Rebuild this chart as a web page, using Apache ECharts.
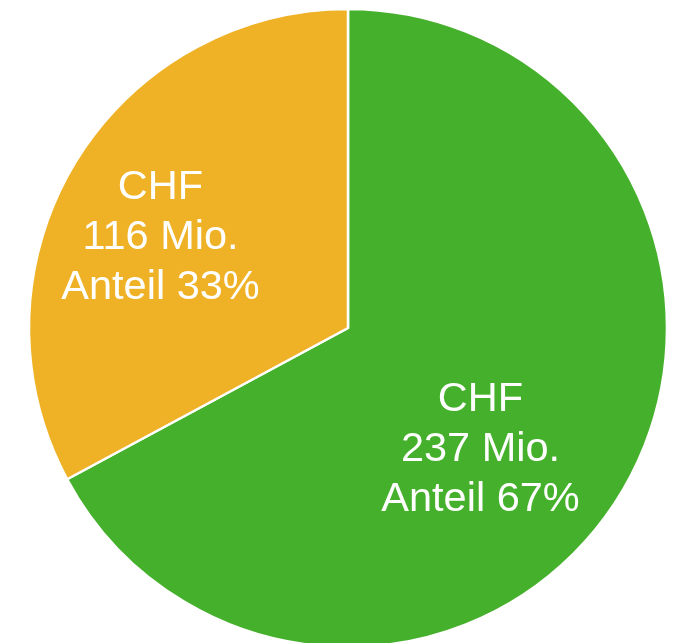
<!DOCTYPE html>
<html>
<head>
<meta charset="utf-8">
<script src="https://cdn.jsdelivr.net/npm/echarts@6/dist/echarts.min.js"></script>
<style>
  html, body { margin: 0; padding: 0; background: #fff; }
  #chart { width: 673px; height: 643px; }
</style>
</head>
<body>
<div id="chart"></div>
<script>
  // Werte in CHF Mio.
  var names = ['Anteil A', 'Anteil B'];
  var values = [237, 116];
  var colors = ['#45B02B', '#EFB226'];
  // label nudges relative to ECharts' default inside position
  var labelOffsets = [[-7, 38], [-48, -7]];

  var chart = echarts.init(document.getElementById('chart'));

  var items = [];
  for (var i = 0; i < values.length; i++) {
    items.push({
      name: names[i],
      value: values[i],
      itemStyle: { color: colors[i] },
      label: { offset: labelOffsets[i] }
    });
  }

  chart.setOption({
    animation: false,
    series: [{
      type: 'pie',
      center: [348, 328],
      radius: [0, 319],
      startAngle: 90,
      clockwise: true,
      percentPrecision: 0,
      avoidLabelOverlap: false,
      itemStyle: {
        borderColor: '#fff',
        borderWidth: 2.5
      },
      label: {
        show: true,
        position: 'inside',
        formatter: 'CHF\n{c} Mio.\nAnteil {d}%',
        color: '#fff',
        fontFamily: 'Liberation Sans, Arial, sans-serif',
        fontSize: 41.5,
        lineHeight: 50,
        align: 'center'
      },
      labelLine: { show: false },
      emphasis: { disabled: true },
      data: items
    }]
  });
</script>
</body>
</html>
